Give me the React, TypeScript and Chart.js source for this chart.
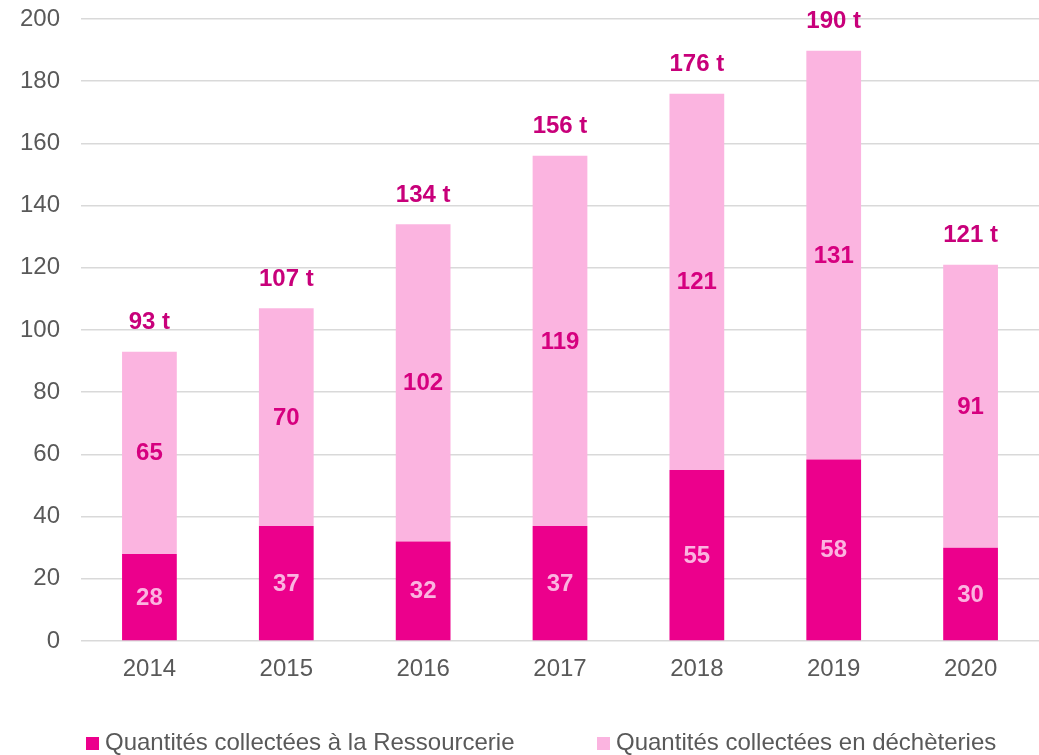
import React, { useEffect, useRef } from "react";
import { Chart, registerables } from "chart.js";

Chart.register(...registerables);

const years = ["2014", "2015", "2016", "2017", "2018", "2019", "2020"];
const ressourcerie = [28, 37, 32, 37, 55, 58.4, 30];
const decheteries = [65, 70, 102, 119, 121, 131.4, 91];
const seriesNames = [
  "Quantités collectées à la Ressourcerie",
  "Quantités collectées en déchèteries",
];
const totalSuffix = " t";

const FONT = '"Liberation Sans", Arial, Helvetica, sans-serif';
const DARK = "#EC008C";
const LIGHT = "#FBB4E0";
const AXIS_TEXT = "#595959";

const labelPlugin = {
  id: "barLabels",
  afterDatasetsDraw(chart: any) {
    const ctx = chart.ctx;
    ctx.save();
    ctx.font = `bold 24px ${FONT}`;
    ctx.textAlign = "center";
    ctx.textBaseline = "middle";
    chart.data.datasets.forEach((ds: any, di: number) => {
      const meta = chart.getDatasetMeta(di);
      meta.data.forEach((bar: any, i: number) => {
        const { x, y, base } = bar.getProps(["x", "y", "base"], true);
        ctx.fillStyle = di === 0 ? LIGHT : "#D6007F";
        ctx.fillText(String(Math.round(ds.data[i])), x, (y + base) / 2 + 1);
      });
    });
    const topMeta = chart.getDatasetMeta(1);
    topMeta.data.forEach((bar: any, i: number) => {
      const total = Math.round(
        (chart.data.datasets[0].data[i] as number) + (chart.data.datasets[1].data[i] as number)
      );
      ctx.fillStyle = "#C8007A";
      ctx.fillText(`${total}${totalSuffix}`, bar.x, bar.y - 29);
    });
    ctx.restore();
  },
};

const legendPlugin = {
  id: "customLegend",
  afterDraw(chart: any) {
    const ctx = chart.ctx;
    const xs = [86, 597];
    ctx.save();
    ctx.font = `24px ${FONT}`;
    ctx.textAlign = "left";
    ctx.textBaseline = "middle";
    chart.data.datasets.forEach((ds: any, di: number) => {
      ctx.fillStyle = ds.backgroundColor;
      ctx.fillRect(xs[di], 737, 13, 13);
      ctx.fillStyle = AXIS_TEXT;
      ctx.fillText(ds.label, xs[di] + 19, 743.5);
    });
    ctx.restore();
  },
};

export default function App() {
  const ref = useRef<HTMLCanvasElement | null>(null);

  useEffect(() => {
    if (!ref.current) return;
    const chart = new Chart(ref.current, {
      type: "bar",
      data: {
        labels: years,
        datasets: [
          {
            label: seriesNames[0],
            data: ressourcerie,
            backgroundColor: DARK,
            barPercentage: 1,
            categoryPercentage: 0.4,
          },
          {
            label: seriesNames[1],
            data: decheteries,
            backgroundColor: LIGHT,
            barPercentage: 1,
            categoryPercentage: 0.4,
          },
        ],
      },
      options: {
        responsive: false,
        animation: false,
        layout: { padding: { top: 19, right: 0, bottom: 0, left: 0 } },
        plugins: {
          legend: { display: false },
          tooltip: { enabled: false },
        },
        scales: {
          x: {
            stacked: true,
            grid: { display: false, drawTicks: false },
            border: { display: false },
            ticks: {
              color: AXIS_TEXT,
              font: { family: FONT, size: 24 },
              padding: 14,
            },
            afterFit: (scale: any) => {
              scale.height = 114;
              scale.paddingLeft = 0;
              scale.paddingRight = 0;
            },
          },
          y: {
            stacked: true,
            min: 0,
            max: 200,
            grid: { color: "#D9D9D9", lineWidth: 1.5, drawTicks: false },
            border: { display: false },
            ticks: {
              stepSize: 20,
              color: AXIS_TEXT,
              font: { family: FONT, size: 24 },
              padding: 21,
            },
            afterFit: (scale: any) => {
              scale.width = 81;
              scale.paddingTop = 0;
              scale.paddingBottom = 0;
            },
          },
        },
      },
      plugins: [labelPlugin, legendPlugin],
    });
    return () => chart.destroy();
  }, []);

  return (
    <div style={{ position: "absolute", left: 0, top: 0, width: 1039, height: 755, background: "#fff" }}>
      <canvas ref={ref} width={1039} height={755} style={{ display: "block" }} />
    </div>
  );
}
